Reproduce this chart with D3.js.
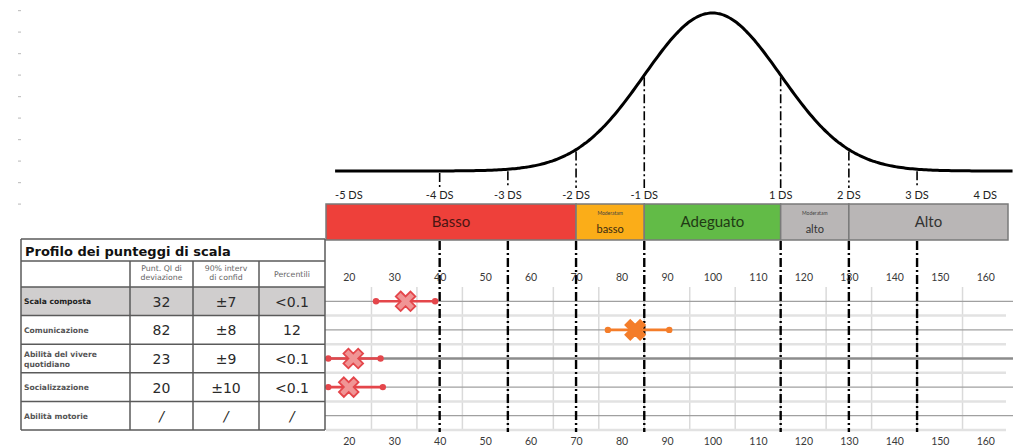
<!DOCTYPE html>
<html>
<head>
<meta charset="utf-8">
<script src="https://cdn.jsdelivr.net/npm/d3@7"></script>
<style>
  body { margin: 0; background: #fff; }
  svg { display: block; }
</style>
</head>
<body>
<script>
// table values
const rowNames = ["Scala composta", "Comunicazione", "Abilità del vivere quotidiano", "Socializzazione", "Abilità motorie"]
const qiScores = ["32", "82", "23", "20", "/"]
const confInts = ["±7", "±8", "±9", "±10", "/"]
const percentiles = ["<0.1", "12", "<0.1", "<0.1", "/"]

// plotted marks
const markScore = [32.5, 83, 21, 20]
const ciLow = [26, 77, 15.5, 15.5]
const ciHigh = [39, 90.5, 27, 27.5]
const markKind = ["low", "mid", "low", "low"]

// scales / labels
const scoreTicks = [20, 30, 40, 50, 60, 70, 80, 90, 100, 110, 120, 130, 140, 150, 160]
const dsValues = [-5, -4, -3, -2, -1, 1, 2, 3, 4]
const dsLabels = ["-5 DS", "-4 DS", "-3 DS", "-2 DS", "-1 DS", "1 DS", "2 DS", "3 DS", "4 DS"]
const dsLines = [-4, -3, -2, -1, 1, 2, 3]

const bandNames = ["Basso", "basso", "Adeguato", "alto", "Alto"]
const bandSmall = ["", "Moderatam", "", "Moderatam", ""]
const bandFrom = [15, 70, 85, 115, 130]
const bandTo = [70, 85, 115, 130, 165]
const bandColors = ["#ee403a", "#fbad18", "#62bb47", "#b9b6b6", "#b9b6b6"]
const bandText = ["#4a1512", "#3a2a10", "#1f3a14", "#333", "#333"]

const width = 1024
const height = 446
const mean = 100
const sd = 15

const svg = d3.select("body").append("svg")
    .attr("width", width)
    .attr("height", height)

const x = d3.scaleLinear().domain([15, 165]).range([326, 1008])
const yCurve = d3.scaleLinear().domain([0, 1]).range([171, 13])
const yRow = d3.scaleBand().domain(rowNames).range([287, 430])

const gauss = s => Math.exp(-0.5 * Math.pow((s - mean) / sd, 2))

// little ruler marks on the left
svg.selectAll(".ruler").data(d3.range(10)).enter().append("rect")
    .attr("x", 18).attr("y", d => 10 + d * 21.5)
    .attr("width", 3).attr("height", 1.2)
    .attr("fill", "#c4c4c4")

// ---- normal curve ----
const curveStart = 17
const curvePts = d3.range(curveStart, 166.5, 0.5)
svg.append("path")
    .datum(curvePts)
    .attr("d", d3.line().x(d => x(d)).y(d => yCurve(gauss(d))).curve(d3.curveBasis))
    .attr("fill", "none")
    .attr("stroke", "#000")
    .attr("stroke-width", 3)

svg.selectAll(".sdTop").data(dsLines).enter().append("line")
    .attr("x1", d => x(mean + d * sd)).attr("x2", d => x(mean + d * sd))
    .attr("y1", d => yCurve(gauss(mean + d * sd)) + 2)
    .attr("y2", 188)
    .attr("stroke", "#000")
    .attr("stroke-width", 1.6)
    .attr("stroke-dasharray", "9,3,2,3")

// the -5 DS label sits at the start of the curve, the rest on their SD position
svg.selectAll(".dsLab").data(dsValues).enter().append("text")
    .attr("x", (d, i) => i === 0 ? x(curveStart) : x(mean + d * sd))
    .attr("y", 199)
    .attr("text-anchor", (d, i) => i === 0 ? "start" : "middle")
    .attr("font-family", "Lato, 'Open Sans', sans-serif")
    .attr("font-size", 11)
    .attr("fill", "#222")
    .text((d, i) => dsLabels[i])

// ---- bottom dash-dot lines and grid ----
svg.selectAll(".minor").data(d3.range(25, 160, 10)).enter().append("line")
    .attr("x1", d => x(d)).attr("x2", d => x(d))
    .attr("y1", 287).attr("y2", 430)
    .attr("stroke", "#dadada")
    .attr("stroke-width", 1.5)

// row boundary (light) lines
svg.selectAll(".rowEdge").data(rowNames).enter().append("line")
    .attr("x1", 326).attr("x2", 1006)
    .attr("y1", d => yRow(d) + yRow.bandwidth())
    .attr("y2", d => yRow(d) + yRow.bandwidth())
    .attr("stroke", "#e2e2e2")
    .attr("stroke-width", 2.5)

// row centre lines
svg.selectAll(".rowMid").data(rowNames).enter().append("line")
    .attr("x1", 325).attr("x2", 1013)
    .attr("y1", d => yRow(d) + yRow.bandwidth() / 2)
    .attr("y2", d => yRow(d) + yRow.bandwidth() / 2)
    .attr("stroke", (d, i) => i === 2 ? "#8c8c8c" : "#a0a0a0")
    .attr("stroke-width", (d, i) => i === 2 ? 2.6 : 1.3)

svg.selectAll(".sdBot").data(dsLines).enter().append("line")
    .attr("x1", d => x(mean + d * sd)).attr("x2", d => x(mean + d * sd))
    .attr("y1", 241)
    .attr("y2", 432)
    .attr("stroke", "#000")
    .attr("stroke-width", 2.4)
    .attr("stroke-dasharray", "9,3,2,3")

// score tick labels (top and bottom)
const axTop = svg.append("g")
    .attr("transform", "translate(0,281)")
    .call(d3.axisTop(x).tickValues(scoreTicks).tickSize(0).tickPadding(0))
const axBot = svg.append("g")
    .attr("transform", "translate(0,436)")
    .call(d3.axisBottom(x).tickValues(scoreTicks).tickSize(0).tickPadding(0))
for (const ax of [axTop, axBot]) {
    ax.select(".domain").remove()
    ax.selectAll("text")
        .attr("font-family", "Lato, 'Open Sans', sans-serif")
        .attr("font-size", 10.5)
        .attr("fill", "#3a3a3a")
}
axBot.selectAll("text").attr("dy", "0.9em")

// ---- category band ----
const band = svg.append("g")
band.selectAll("rect").data(bandNames).enter().append("rect")
    .attr("x", (d, i) => x(bandFrom[i]))
    .attr("y", 204)
    .attr("width", (d, i) => x(bandTo[i]) - x(bandFrom[i]))
    .attr("height", 36)
    .attr("fill", (d, i) => bandColors[i])
    .attr("stroke", "#7a7a7a")
    .attr("stroke-width", 1.5)

band.selectAll(".bName").data(bandNames).enter().append("text")
    .attr("x", (d, i) => (x(bandFrom[i]) + x(bandTo[i])) / 2)
    .attr("y", (d, i) => bandSmall[i] ? 233 : 227)
    .attr("text-anchor", "middle")
    .attr("font-family", "Lato, 'Open Sans', sans-serif")
    .attr("font-size", (d, i) => bandSmall[i] ? 11 : 15)
    .attr("fill", (d, i) => bandText[i])
    .text(d => d)

band.selectAll(".bSmall").data(bandSmall.map((d, i) => [d, i]).filter(d => d[0])).enter().append("text")
    .attr("x", d => (x(bandFrom[d[1]]) + x(bandTo[d[1]])) / 2)
    .attr("y", 215)
    .attr("text-anchor", "middle")
    .attr("font-family", "Lato, sans-serif")
    .attr("font-size", 5)
    .attr("fill", "#444")
    .text(d => d[0])

// ---- markers ----
const colRed = "#e4464b", colOrange = "#f47d2a"
const marks = svg.append("g")
markScore.forEach((s, i) => {
    const cy = yRow(rowNames[i]) + yRow.bandwidth() / 2
    const c = markKind[i] === "mid" ? colOrange : colRed
    marks.append("line")
        .attr("x1", x(ciLow[i])).attr("x2", x(ciHigh[i]))
        .attr("y1", cy).attr("y2", cy)
        .attr("stroke", c).attr("stroke-width", 2.6)
    marks.selectAll(null).data([ciLow[i], ciHigh[i]]).enter().append("circle")
        .attr("cx", d => x(d)).attr("cy", cy).attr("r", 3.2)
        .attr("fill", c)
    marks.append("path")
        .attr("d", d3.symbol(d3.symbolCross).size(240)())
        .attr("transform", `translate(${x(s)},${cy}) rotate(45)`)
        .attr("fill", markKind[i] === "mid" ? colOrange : "#f09595")
        .attr("stroke", c)
        .attr("stroke-width", 1.8)
})

// ---- table ----
const colX = [21, 130, 193, 259, 325]
const tbl = svg.append("g")
const tFont = "'DejaVu Sans', Verdana, sans-serif"

// grey composite row
tbl.append("rect")
    .attr("x", colX[0]).attr("y", yRow(rowNames[0]))
    .attr("width", colX[4] - colX[0]).attr("height", yRow.bandwidth())
    .attr("fill", "#d0cece")

tbl.append("text")
    .attr("x", 25).attr("y", 256)
    .attr("font-family", tFont).attr("font-weight", "bold")
    .attr("font-size", 13).attr("fill", "#111")
    .text("Profilo dei punteggi di scala")

const headers = [[], ["Punt. QI di", "deviazione"], ["90% interv", "di confid"], ["Percentili"]]
headers.forEach((lines, c) => {
    lines.forEach((t, k) => {
        tbl.append("text")
            .attr("x", (colX[c] + colX[c + 1]) / 2)
            .attr("y", lines.length > 1 ? 271 + k * 9 : 277)
            .attr("text-anchor", "middle")
            .attr("font-family", tFont).attr("font-size", 7.8)
            .attr("fill", "#666")
            .text(t)
    })
})

rowNames.forEach((name, i) => {
    const top = yRow(name)
    const cy = top + yRow.bandwidth() / 2
    const parts = name === "Abilità del vivere quotidiano" ? ["Abilità del vivere", "quotidiano"] : [name]
    parts.forEach((t, k) => {
        tbl.append("text")
            .attr("x", 24)
            .attr("y", cy + 3 + (k - (parts.length - 1) / 2) * 10)
            .attr("font-family", tFont).attr("font-weight", "bold")
            .attr("font-size", 7.6)
            .attr("fill", i === 0 ? "#222" : "#555")
            .text(t)
    })
    const vals = [qiScores[i], confInts[i], percentiles[i]]
    vals.forEach((v, c) => {
        tbl.append("text")
            .attr("x", (colX[c + 1] + colX[c + 2]) / 2)
            .attr("y", cy + 5.5)
            .attr("text-anchor", "middle")
            .attr("font-family", tFont)
            .attr("font-size", 14)
            .attr("font-style", v === "/" ? "italic" : "normal")
            .attr("fill", "#2a2a2a")
            .text(v)
    })
})

// grid lines of the table
const hLines = [239, 261, 287].concat(rowNames.map(d => yRow(d) + yRow.bandwidth()))
tbl.selectAll(".h").data(hLines).enter().append("line")
    .attr("x1", colX[0]).attr("x2", colX[4])
    .attr("y1", d => d).attr("y2", d => d)
    .attr("stroke", "#5a5a5a").attr("stroke-width", 1.5)
tbl.selectAll(".v").data(colX).enter().append("line")
    .attr("x1", d => d).attr("x2", d => d)
    .attr("y1", (d, i) => (i === 0 || i === 4) ? 239 : 261)
    .attr("y2", 430)
    .attr("stroke", "#5a5a5a").attr("stroke-width", 1.5)
</script>
</body>
</html>
